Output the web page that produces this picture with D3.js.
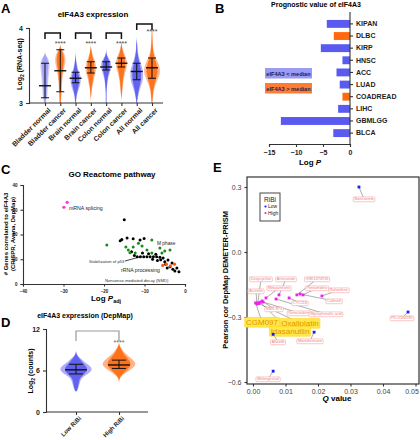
<!DOCTYPE html>
<html><head><meta charset="utf-8">
<script src="https://cdn.jsdelivr.net/npm/d3@7"></script>
<style>body{margin:0;background:#fff}svg{display:block;font-family:"Liberation Sans",Arial,sans-serif}</style>
</head><body><svg id="c" width="420" height="440"></svg>
<script>
// ---------- DATA ----------
// Panel A
const aGroups = ["Bladder normal","Bladder cancer","Brain normal","Brain cancer","Colon normal","Colon cancer","All normal","All cancer"];
const aMedian = [3.23,3.43,3.33,3.47,3.48,3.53,3.42,3.47];
const aQ1 = [3.07,3.15,3.27,3.40,3.44,3.48,3.31,3.33];
const aQ3 = [3.53,3.71,3.41,3.55,3.55,3.60,3.53,3.60];
const aLevels = [3.00,3.05,3.10,3.15,3.20,3.25,3.30,3.35,3.40,3.45,3.50,3.55,3.60,3.65,3.70,3.75,3.80,3.85,3.90,3.95,4.00];
const aDensity = [
  [0.1,0.2,0.3,0.3,0.35,0.4,0.4,0.45,0.5,0.55,0.6,0.55,0.4,0,0,0,0,0,0,0,0],
  [0.1,0.1,0.15,0.15,0.2,0.2,0.25,0.3,0.35,0.45,0.55,0.65,0.65,0.55,0.3,0,0,0,0,0,0],
  [0.05,0.1,0.15,0.3,0.45,0.6,0.65,0.65,0.5,0.3,0.2,0.1,0.05,0,0,0,0,0,0,0,0],
  [0,0,0.05,0.1,0.15,0.25,0.35,0.45,0.6,0.65,0.65,0.55,0.35,0.2,0.1,0,0,0,0,0,0],
  [0.05,0.05,0.05,0.05,0.1,0.15,0.2,0.3,0.45,0.6,0.65,0.6,0.3,0.05,0,0,0,0,0,0,0],
  [0,0,0.05,0.1,0.15,0.2,0.25,0.35,0.45,0.6,0.7,0.7,0.6,0.4,0.2,0.1,0,0,0,0,0],
  [0.05,0.1,0.2,0.3,0.45,0.6,0.75,0.8,0.8,0.75,0.6,0.45,0.3,0.2,0.1,0.1,0.05,0,0,0,0],
  [0.05,0.1,0.15,0.2,0.3,0.45,0.65,0.85,1.0,1.0,0.9,0.7,0.5,0.3,0.2,0.15,0.1,0.08,0.05,0.05,0]
];
const aPairs = [["Bladder normal","Bladder cancer"],["Brain normal","Brain cancer"],["Colon normal","Colon cancer"],["All normal","All cancer"]];
const aTicks = [3,4];

// Panel B
const bCancers = ["KIPAN","DLBC","KIRP","HNSC","ACC","LUAD","COADREAD","LIHC","GBMLGG","BLCA"];
const bLogP = [-4.3,-3.0,-5.4,-1.4,-2.5,-1.9,-1.4,-2.2,-12.8,-3.1];
const bGroup = ["low","high","low","low","low","low","high","low","low","low"];
const bTicks = [-15,-10,-5,0];

// Panel C
const cBlack = [[-15,26],[-15.6,18],[-14.3,18.6],[-12.8,18.3],[-11.1,17.8],[-10.1,18.4],[-16,17.5],
  [-11.8,11],[-11,11],[-10.2,11],[-9.4,11],[-8.6,11],[-7.8,11],[-7,11],[-6.2,10.8],[-5.4,10.5],[-12.5,11.5],
  [-4.2,9.7],[-3.2,8.5],[-2.5,5.3],[-3.7,7],[-4.4,6.5],[-5,9],[-6,9.8],[-7.2,12],[-9,12.2],[-10.5,12.5],
  [-2,6.5],[-1.5,5],[-3,6],[-4.8,8],[-13.2,13],[-8,10],[-6.8,9.5]];
const cGreen = [[-19.3,15.8],[-14,13.7],[-13.6,12.6],[-12.3,12.5],[-10.6,15.4],[-9.4,13.7],[-8.2,17.8],[-6.2,14.5],
  [-5,13.3],[-3.7,13.7],[-5.7,12.5],[-8.2,12.5],[-12.8,15],[-14.6,15],[-11.5,16.5]];
const cOrange = [[-5.5,7.5],[-4.6,8],[-3.6,7.3],[-2.6,8]];
const cPink = [[-29.1,33],[-29.9,31]];
const cXTicks = [-40,-30,-20,-10,0];
const cYTicks = [0,10,20,30,40];

// Panel D
const dGroups = ["Low RiBi","High RiBi"];
const dMedian = [6.1,6.8];
const dQ1 = [5.5,6.3];
const dQ3 = [6.9,7.5];
const dLevels = [3,3.5,4,4.5,5,5.5,6,6.5,7,7.5,8,8.5,9,9.5,10];
const dDensity = [
  [0.05,0.15,0.2,0.25,0.35,0.7,0.95,0.9,0.6,0.4,0.15,0,0,0,0],
  [0,0,0,0,0.05,0.3,0.6,0.9,1.0,0.85,0.6,0.35,0.2,0.05,0]
];
const dTicks = [0,6,12];

// Panel E
const eDrugs = ["Bortezomib","PD-0166285","Monobenzone","Afatinib","Melengestrol",
  "Acitretin","Doxycycline","NMS-873","Gemcitabine","Mitoxantrone","Mycophenolic acid","Artesunate","CYC116",
  "GSK1070916","Cafestol","Pentamidine","Raloxifene","CGM097","Oxaliplatin","Idasanutlin"];
const eQ = [0.0326,0.0477,0.0188,0.0062,0.0062,
  0.0012,0.0015,0.0028,0.0031,0.0040,0.0071,0.0080,0.0111,
  0.0135,0.0145,0.0154,0.0212,0.0008,0.0018,0.0022];
const eR = [0.30,-0.277,-0.37,-0.38,-0.55,
  -0.240,-0.235,-0.226,-0.231,-0.212,-0.217,-0.198,-0.212,
  -0.198,-0.194,-0.198,-0.203,-0.235,-0.238,-0.232];
const eRibi = ["Low","Low","Low","Low","Low",
  "High","High","High","High","High","High","High","High","High","High","High","High","High","High","High"];
const eHighlight = ["CGM097","Oxaliplatin","Idasanutlin"];
const eXTicks = [0,0.01,0.02,0.03,0.04,0.05];
const eYTicks = [0.3,0,-0.3,-0.6];

// ---------- LAYOUT (label placement, px) ----------
const eLabelPos = {"Bortezomib":[364,199],"PD-0166285":[402,318],"Monobenzone":[310,341],"Afatinib":[278,342],
  "Melengestrol":[268,379],"Acitretin":[256,291],"Doxycycline":[261,279],"NMS-873":[274,309],"Gemcitabine":[299,313],
  "Mitoxantrone":[279,288],"Mycophenolic acid":[326,314],"Artesunate":[286,279],"CYC116":[300,303],
  "GSK1070916":[317,279],"Cafestol":[334,301],"Pentamidine":[317,288],"Raloxifene":[339,290],
  "CGM097":[262,322],"Oxaliplatin":[300,323],"Idasanutlin":[290,331]};

const BLUE = "#5a5af0", ORANGE = "#ff6a10";
const svg = d3.select("#c");
function styleAxis(g, fs, bold){
  g.selectAll("path,line").attr("stroke","#333").attr("stroke-width",1.1);
  g.selectAll("text").attr("font-size",fs).attr("font-weight",bold?"bold":"normal").attr("fill","#222");
}
function letter(x,y,t){ svg.append("text").attr("x",x).attr("y",y).attr("font-size",13).attr("font-weight","bold").text(t); }

// ---------- PANEL A ----------
letter(1,13,"A");
svg.append("text").attr("x",93).attr("y",17).attr("text-anchor","middle").attr("font-size",8).attr("font-weight","bold").text("eIF4A3 expression");
const xA = d3.scalePoint().domain(aGroups).range([45,152]);
const yA = d3.scaleLinear().domain([3,4]).range([103,28]);
aGroups.forEach((g,i)=>{
  const col = i%2===0 ? BLUE : ORANGE;
  const xc = xA(g);
  const mk = w => d3.area().curve(d3.curveBasis).y((d,j)=>yA(aLevels[j])).x0(d=>xc-d*w).x1(d=>xc+d*w);
  svg.append("path").attr("d",mk(8)(aDensity[i])).attr("fill",col).attr("opacity",i===0?0.3:0.45);
  svg.append("path").attr("d",mk(5.5)(aDensity[i])).attr("fill",col).attr("opacity",i===0?0.35:0.9);
  svg.append("line").attr("x1",xc).attr("x2",xc).attr("y1",yA(aQ1[i])).attr("y2",yA(aQ3[i])).attr("stroke","#111").attr("stroke-width",1);
  [aQ1[i],aQ3[i]].forEach(v=>svg.append("line").attr("x1",xc-4).attr("x2",xc+4).attr("y1",yA(v)).attr("y2",yA(v)).attr("stroke","#111").attr("stroke-width",1));
  svg.append("line").attr("x1",xc-6).attr("x2",xc+6).attr("y1",yA(aMedian[i])).attr("y2",yA(aMedian[i])).attr("stroke","#111").attr("stroke-width",1.4);
});
const gAy = svg.append("g").attr("transform","translate(29,0)").call(d3.axisLeft(yA).tickValues(aTicks).tickSize(3).tickFormat(d3.format("d")));
styleAxis(gAy,7,true);
const gAx = svg.append("g").attr("transform","translate(0,103)").call(d3.axisBottom(xA).tickSize(3));
gAx.select(".domain").remove();
gAx.append("line").attr("x1",29).attr("x2",163).attr("y1",0).attr("y2",0);
styleAxis(gAx,7,true);
gAx.selectAll(".tick text").attr("text-anchor","end").attr("transform","rotate(-45)").attr("dx","-0.2em").attr("dy","0.5em");
svg.append("text").attr("transform","translate(22,64) rotate(-90)").attr("text-anchor","middle").attr("font-size",7).attr("font-weight","bold")
  .html('Log<tspan font-size="5" dy="2">2</tspan><tspan dy="-2"> (RNA-seq)</tspan>');
aPairs.forEach((p,k)=>{
  const top = k===3 ? 24 : 33, x1 = xA(p[0]), x2 = xA(p[1]);
  svg.append("path").attr("d",`M${x1},${top+6}V${top}H${x2}V${top+6}`).attr("fill","none").attr("stroke","#111").attr("stroke-width",1.5);
  svg.append("text").attr("x",x2).attr("y",(k===3?32:44)+2).attr("text-anchor","middle").attr("font-size",7).attr("fill","#444").text("****");
});

// ---------- PANEL B ----------
letter(215,13,"B");
svg.append("text").attr("x",316).attr("y",7).attr("text-anchor","middle").attr("font-size",7).attr("font-weight","bold").text("Prognostic value of eIF4A3");
const xB = d3.scaleLinear().domain([-15,0]).range([269,350]);
const yB = d3.scaleBand().domain(bCancers).range([15.7,141.3]).padding(0.35);
svg.selectAll(".barB").data(bCancers).enter().append("rect")
  .attr("x",(d,i)=>xB(bLogP[i])).attr("width",(d,i)=>xB(0)-xB(bLogP[i]))
  .attr("y",d=>yB(d)).attr("height",yB.bandwidth())
  .attr("fill",(d,i)=>bGroup[i]==="low"?BLUE:ORANGE);
const gBx = svg.append("g").attr("transform","translate(0,144)").call(d3.axisBottom(xB).tickValues(bTicks).tickSize(3).tickFormat(d=>d===0?"0":d3.format("d")(d).replace("-","\u2212")));
styleAxis(gBx,7,true);
const gBy = svg.append("g").attr("transform","translate(350,0)").call(d3.axisRight(yB).tickSize(3));
gBy.select(".domain").attr("d","M0,12V144");
styleAxis(gBy,7,true);
svg.append("text").attr("x",310).attr("y",165).attr("text-anchor","middle").attr("font-size",8).attr("font-weight","bold")
  .html('Log <tspan font-style="italic">P</tspan>');
[["eIF4A3 < median","#9b9bf4",68],["eIF4A3 > median","#ff7d33",83]].forEach(l=>{
  svg.append("rect").attr("x",265).attr("y",l[2]).attr("width",47).attr("height",10.5).attr("fill",l[1]);
  svg.append("text").attr("x",288.5).attr("y",l[2]+7.5).attr("text-anchor","middle").attr("font-size",5.6).attr("font-weight","bold").attr("fill","#1d1d55").text(l[0]);
});

// ---------- PANEL C ----------
letter(1,174,"C");
svg.append("text").attr("x",112).attr("y",177).attr("text-anchor","middle").attr("font-size",8).attr("font-weight","bold").text("GO Reactome pathway");
const xC = d3.scaleLinear().domain([-40,0]).range([23,185]);
const yC = d3.scaleLinear().domain([0,40]).range([284,185]);
const gCy = svg.append("g").attr("transform","translate(23,0)").call(d3.axisLeft(yC).tickValues(cYTicks).tickSize(2.5));
styleAxis(gCy,4.5,true);
const gCx = svg.append("g").attr("transform","translate(0,284)").call(d3.axisBottom(xC).tickValues(cXTicks).tickSize(2.5).tickFormat(d=>d===0?"0":String(d).replace("-","\u2212")));
styleAxis(gCx,4.5,true);
svg.append("text").attr("transform","translate(8,234) rotate(-90)").attr("text-anchor","middle").attr("font-size",6).attr("font-weight","bold").text("# Genes correlated to eIF4A3");
svg.append("text").attr("transform","translate(15,234) rotate(-90)").attr("text-anchor","middle").attr("font-size",6).attr("font-weight","bold").text("(CRISPR, Avana, DepMap)");
svg.append("text").attr("x",106).attr("y",301).attr("text-anchor","middle").attr("font-size",8).attr("font-weight","bold")
  .html('Log <tspan font-style="italic">P</tspan><tspan font-size="5.5" dy="2">adj</tspan>');
svg.append("line").attr("x1",125).attr("y1",261).attr("x2",xC(-11)).attr("y2",yC(11)).attr("stroke","#111").attr("stroke-width",0.8);
const dotC = (arr,col,r)=>svg.append("g").selectAll("circle").data(arr).enter().append("circle")
  .attr("cx",d=>xC(d[0])).attr("cy",d=>yC(d[1])).attr("r",r).attr("fill",col);
dotC(cBlack,"#000",1.5); dotC(cGreen,"#1a8a1a",1.5); dotC(cOrange,"#ff5a10",1.6); dotC(cPink,"#ff33dd",1.6);
const ctext = (x,y,t,fs,col)=>svg.append("text").attr("x",x).attr("y",y).attr("font-size",fs).attr("fill",col||"#222").text(t);
ctext(69,209.5,"mRNA splicing",5.2);
ctext(157,245,"M phase",4.8);
ctext(89,262.5,"Stabilization of p53",4.2,"#333");
ctext(121,272,"rRNA processing",5.2);
ctext(105,282,"Nonsense-mediated decay (NMD)",4.2,"#333");

// ---------- PANEL D ----------
letter(1,327,"D");
svg.append("text").attr("x",85).attr("y",318).attr("text-anchor","middle").attr("font-size",7).attr("font-weight","bold").text("eIF4A3 expression (DepMap)");
const xD = d3.scalePoint().domain(dGroups).range([76,119]);
const yD = d3.scaleLinear().domain([0,12]).range([412,329]);
dGroups.forEach((g,i)=>{
  const col = i===0 ? BLUE : ORANGE, xc = xD(g);
  const mk = w => d3.area().curve(d3.curveBasis).y((d,j)=>yD(dLevels[j])).x0(d=>xc-d*w).x1(d=>xc+d*w);
  svg.append("path").attr("d",mk(17)(dDensity[i])).attr("fill",col).attr("opacity",0.5);
  svg.append("path").attr("d",mk(12)(dDensity[i])).attr("fill",col).attr("opacity",0.9);
  svg.append("line").attr("x1",xc).attr("x2",xc).attr("y1",yD(dQ1[i])).attr("y2",yD(dQ3[i])).attr("stroke","#111").attr("stroke-width",1);
  [dQ1[i],dQ3[i]].forEach(v=>svg.append("line").attr("x1",xc-7).attr("x2",xc+7).attr("y1",yD(v)).attr("y2",yD(v)).attr("stroke","#111").attr("stroke-width",1));
  svg.append("line").attr("x1",xc-11).attr("x2",xc+11).attr("y1",yD(dMedian[i])).attr("y2",yD(dMedian[i])).attr("stroke","#111").attr("stroke-width",1.4);
});
const gDy = svg.append("g").attr("transform","translate(46,0)").call(d3.axisLeft(yD).tickValues(dTicks).tickSize(3));
styleAxis(gDy,7,true);
const gDx = svg.append("g").attr("transform","translate(0,412)").call(d3.axisBottom(xD).tickSize(3));
gDx.select(".domain").remove();
gDx.append("line").attr("x1",46).attr("x2",148).attr("y1",0).attr("y2",0);
styleAxis(gDx,6,true);
gDx.selectAll(".tick text").attr("text-anchor","end").attr("transform","rotate(-45)").attr("dx","-0.2em").attr("dy","0.4em");
svg.append("text").attr("transform","translate(33,371) rotate(-90)").attr("text-anchor","middle").attr("font-size",7).attr("font-weight","bold")
  .html('Log<tspan font-size="5" dy="2">2</tspan><tspan dy="-2"> (counts)</tspan>');
svg.append("path").attr("d",`M${xD(dGroups[0])},341V331H${xD(dGroups[1])}V341`).attr("fill","none").attr("stroke","#999").attr("stroke-width",1.2);
svg.append("text").attr("x",xD(dGroups[1])).attr("y",345).attr("text-anchor","middle").attr("font-size",7).attr("fill","#666").text("****");

// ---------- PANEL E ----------
letter(213,172,"E");
const xE = d3.scaleLinear().domain([0,0.05]).range([253,415.5]);
const yE = d3.scaleLinear().domain([-0.6,0.3]).range([382,187]);
svg.append("rect").attr("x",247).attr("y",177).attr("width",172).attr("height",207).attr("fill","none").attr("stroke","#333").attr("stroke-width",1.2);
const gEy = svg.append("g").attr("transform","translate(247,0)").call(d3.axisLeft(yE).tickValues(eYTicks).tickSize(2.5).tickFormat(d=>d3.format(".1f")(d).replace("-","\u2212")));
gEy.select(".domain").remove(); styleAxis(gEy,7,false); gEy.selectAll("text").attr("fill","#444");
const gEx = svg.append("g").attr("transform","translate(0,384)").call(d3.axisBottom(xE).tickValues(eXTicks).tickSize(2.5).tickFormat(d3.format(".2f")));
gEx.select(".domain").remove(); styleAxis(gEx,7,false); gEx.selectAll("text").attr("fill","#444");
gEx.selectAll(".tick text").filter(d=>d===0.05).attr("text-anchor","end").attr("dx","0.4em");
svg.append("text").attr("x",337).attr("y",401).attr("text-anchor","middle").attr("font-size",8).attr("font-weight","bold")
  .html('<tspan font-style="italic">Q</tspan> value');
svg.append("text").attr("transform","translate(228,280) rotate(-90)").attr("text-anchor","middle").attr("font-size",7.4).attr("font-weight","bold").text("Pearson cor DepMap DEMETER-PRISM");
// connectors
eDrugs.forEach((d,i)=>{
  const p = eLabelPos[d];
  svg.append("line").attr("x1",xE(eQ[i])).attr("y1",yE(eR[i])).attr("x2",p[0]).attr("y2",p[1]).attr("stroke","#777").attr("stroke-width",0.6);
});
// labels
eDrugs.forEach((d,i)=>{
  const p = eLabelPos[d], hl = eHighlight.includes(d);
  const fs = hl ? 8 : 3.8;
  const t = svg.append("text").attr("x",p[0]).attr("y",p[1]+fs*0.35).attr("text-anchor","middle").attr("font-size",fs)
    .attr("fill",hl?"#e39200":"#ef7f7f").text(d);
  const bb = t.node().getBBox();
  svg.insert("rect", () => t.node()).attr("x",bb.x-1.2).attr("y",bb.y-0.4).attr("width",bb.width+2.4).attr("height",bb.height+0.8).attr("rx",1)
    .attr("fill",hl?"#ffe94a":"#fff").attr("stroke",hl?"#ffd21a":"#f4a3a3").attr("stroke-width",0.6);
});
svg.append("g").selectAll("rect").data(eDrugs).enter().append("rect")
  .attr("x",(d,i)=>xE(eQ[i])-1.4).attr("y",(d,i)=>yE(eR[i])-1.4).attr("width",2.8).attr("height",2.8)
  .attr("fill",(d,i)=>eRibi[i]==="Low"?"#1a1aff":"#f01ef0");
// legend
svg.append("rect").attr("x",260).attr("y",193).attr("width",20).attr("height",28).attr("fill","#fff").attr("stroke","#333").attr("stroke-width",0.9);
svg.append("text").attr("x",264).attr("y",202).attr("font-size",6.5).attr("fill","#222").text("RiBi");
[["Low","#1a1aff",208],["High","#f01ef0",214.5]].forEach(l=>{
  svg.append("circle").attr("cx",265.5).attr("cy",l[2]-1.5).attr("r",1.1).attr("fill",l[1]);
  svg.append("text").attr("x",268).attr("y",l[2]).attr("font-size",5).attr("fill","#222").text(l[0]);
});
</script></body></html>
